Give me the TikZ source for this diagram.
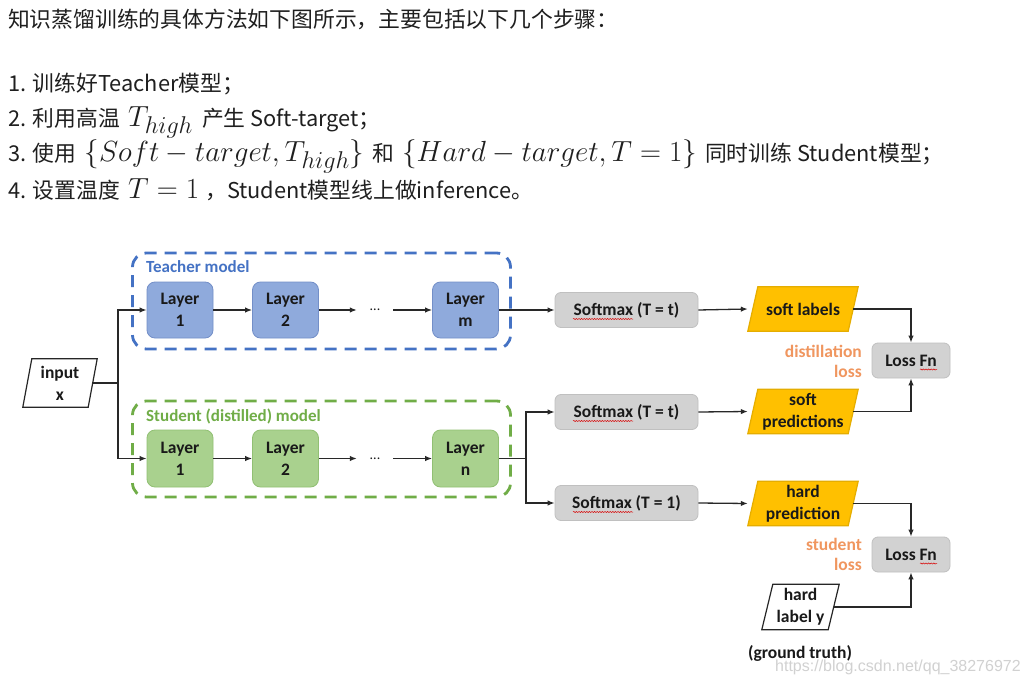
\documentclass[tikz,border=0pt]{standalone}
\usepackage{fontspec}
\newfontfamily\cjk{Noto Sans CJK SC}
\newfontfamily\carlito{Carlito}
\newfontfamily\wmfont{Liberation Sans}
\usetikzlibrary{arrows.meta,backgrounds,decorations.pathmorphing}
\definecolor{tblue}{RGB}{68,114,196}
\definecolor{tfill}{RGB}{143,170,220}
\definecolor{tdraw}{RGB}{115,143,200}
\definecolor{sgreen}{RGB}{112,173,71}
\definecolor{sfill}{RGB}{169,209,142}
\definecolor{sdraw}{RGB}{145,192,115}
\definecolor{gfill}{RGB}{210,210,210}
\definecolor{gdraw}{RGB}{192,192,192}
\definecolor{yfill}{RGB}{255,192,0}
\definecolor{olabel}{RGB}{240,150,95}
\definecolor{arrowc}{RGB}{40,40,40}
\newcommand{\mth}[1]{{\fontsize{24.88}{30}\selectfont\scalebox{1.17}{$#1$}}}
\newcommand{\pgram}[4]{%
  \path[fill=#3, draw=#4, line width=1.2pt] ([xshift=#2]#1.north west) -- ([xshift=#2]#1.north east) -- ([xshift=-#2]#1.south east) -- ([xshift=-#2]#1.south west) -- cycle;}
\tikzset{
  base/.style={font=\carlito\bfseries\fontsize{17.5}{22}\selectfont, align=center, inner sep=0pt, text=black!90},
  tlayer/.style={base, rounded corners=8pt, fill=tfill, draw=tdraw, line width=0.8pt, minimum width=66pt, minimum height=56pt},
  slayer/.style={base, rounded corners=8pt, fill=sfill, draw=sdraw, line width=0.8pt, minimum width=66pt, minimum height=57pt},
  smbox/.style={base, rounded corners=6pt, fill=gfill, draw=gdraw, line width=0.8pt, minimum width=143pt, minimum height=35pt},
  lossbox/.style={base, rounded corners=6pt, fill=gfill, draw=gdraw, line width=0.8pt, minimum width=78pt, minimum height=35pt},
  pbox/.style={base, minimum width=100pt, minimum height=44pt},
  frame/.style={rounded corners=14pt, line width=2.8pt, dash pattern=on 12pt off 8pt},
  arr/.style={-{Latex[length=7pt,width=5.5pt]}, line width=1.3pt, draw=arrowc},
  conn/.style={line width=1.3pt, draw=arrowc},
  olbl/.style={font=\carlito\bfseries\fontsize{17.5}{20}\selectfont, text=olabel, align=right, anchor=east, inner sep=0pt},
  flbl/.style={font=\carlito\bfseries\fontsize{17}{20}\selectfont, anchor=west, inner sep=0pt},
  hdr/.style={font=\cjk\fontsize{21.8}{25}\selectfont, anchor=base west, inner sep=0pt, text=black!88},
  squig/.style={draw=red!85!black, line width=0.5pt, decorate, decoration={snake, amplitude=0.55pt, segment length=2.6pt}},
}
\begin{document}
\begin{tikzpicture}[x=1pt, y=-1pt]
\useasboundingbox (0,0) rectangle (1026,685);
% header
\node[hdr] (h0) at (8,28) {知识蒸馏训练的具体方法如下图所示，主要包括以下几个步骤：};
\node[hdr] (h1) at (8,91.5) {1. 训练好Teacher模型；};
\node[hdr] (h2) at (8,126.5) {2. 利用高温\hspace{8pt}\mth{T_{high}}\hspace{9pt}产生 Soft-target；};
\node[hdr] (h3) at (8,161.5) {3. 使用\hspace{8pt}\mth{\{Soft-target,T_{high}\}}\hspace{8pt}和\hspace{8pt}\mth{\{Hard-target,T=1\}}\hspace{8pt}同时训练 Student模型；};
\node[hdr] (h4) at (8,198) {4. 设置温度\hspace{8pt}\mth{T=1}\hspace{6pt}，Student模型线上做inference。};
% frames
\node[frame, draw=tblue, minimum width=378pt, minimum height=96pt] (tframe) at (321.5,301) {};
\node[frame, draw=sgreen, minimum width=378pt, minimum height=96pt] (sframe) at (321.5,449) {};
\node[flbl, text=tblue] (tlabel) at (146,267) {Teacher model};
\node[flbl, text=sgreen] (slabel) at (146,416) {Student (distilled) model};
% input
\node[pbox, minimum width=65pt, minimum height=48pt] (in) at (60,383) {input\\x};
\coordinate (split) at (118,383);
% teacher
\node[tlayer] (t1) at (180,310) {Layer\\1};
\node[tlayer] (t2) at (285.5,310) {Layer\\2};
\node[base, font=\carlito\fontsize{14}{16}\selectfont, minimum width=36pt] (td) at (375,310) {...};
\node[tlayer] (tm) at (465.5,310) {Layer\\m};
% student
\node[slayer] (s1) at (180,458.5) {Layer\\1};
\node[slayer] (s2) at (285.5,458.5) {Layer\\2};
\node[base, font=\carlito\fontsize{14}{16}\selectfont, minimum width=36pt] (sd) at (375,458.5) {...};
\node[slayer] (sn) at (465.5,458.5) {Layer\\n};
\coordinate (split2) at (526,458.5);
% softmax
\node[smbox] (sm1) at (626.5,310) {Softmax (T = t)};
\node[smbox] (sm2) at (626.5,412) {Softmax (T = t)};
\node[smbox] (sm3) at (626.5,503) {Softmax (T = 1)};
% outputs
\node[pbox] (sl) at (803,309) {soft labels};
\node[pbox] (sp) at (803,411.5) {soft\\predictions};
\node[pbox] (hp) at (803,503.5) {hard\\prediction};
\node[pbox, minimum width=66pt, minimum height=45pt] (hl) at (800.5,607) {hard\\label y};
\node[base] (gt) at (800,653) {(ground truth)};
% loss
\node[lossbox] (l1) at (911,360.5) {Loss Fn};
\node[lossbox] (l2) at (911,554.5) {Loss Fn};
\node[olbl] (dl) at (862,361) {distillation\\loss};
\node[olbl] (stl) at (862,554.5) {student\\loss};
% watermark
\node[anchor=west, font=\wmfont\fontsize{16}{18}\selectfont, text=black!18, inner sep=0pt] (wm) at (775,667) {https://blog.csdn.net/qq\_38276972};
% background and parallelograms
\begin{scope}[on background layer]
\fill[white] (0,0) rectangle (1026,685);
\pgram{in}{4.5pt}{white}{black!85}
\pgram{sl}{5pt}{yfill}{yfill!90!black}
\pgram{sp}{5pt}{yfill}{yfill!90!black}
\pgram{hp}{5pt}{yfill}{yfill!90!black}
\pgram{hl}{5.5pt}{white}{black!85}
\end{scope}
% connectors
\draw[conn] (in.east) -- (split);
\draw[arr] (split) |- (t1.west);
\draw[arr] (split) |- (s1.west);
\draw[arr] (t1) -- (t2);
\draw[arr] (t2.east) -- (t2.east -| td.west);
\draw[arr] (tm.west -| td.east) -- (tm.west);
\draw[arr] (s1) -- (s2);
\draw[arr] (s2.east) -- (s2.east -| sd.west);
\draw[arr] (sn.west -| sd.east) -- (sn.west);
\draw[arr] (tm.east) -- (sm1.west);
\draw[conn] (sn.east) -- (split2);
\draw[arr] (split2) |- (sm2.west);
\draw[arr] (split2) |- (sm3.west);
\draw[arr] (sm1.east) -- ([xshift=-5pt]sl.west);
\draw[arr] (sm2.east) -- ([xshift=-5pt]sp.west);
\draw[arr] (sm3.east) -- ([xshift=-5pt]hp.west);
\draw[arr] (sl.east) -| (l1.north);
\draw[arr] (sp.east) -| (l1.south);
\draw[arr] (hp.east) -| (l2.north);
\draw[arr] (hl.east) -| (l2.south);
% spelling squiggles
\foreach \n in {sm1,sm2,sm3} \draw[squig] ([shift={(-53.5,9)}]\n.center) -- ([shift={(6.5,9)}]\n.center);
\foreach \n in {l1,l2} \draw[squig] ([shift={(9,9)}]\n.center) -- ([shift={(26,9)}]\n.center);
\end{tikzpicture}
\end{document}
